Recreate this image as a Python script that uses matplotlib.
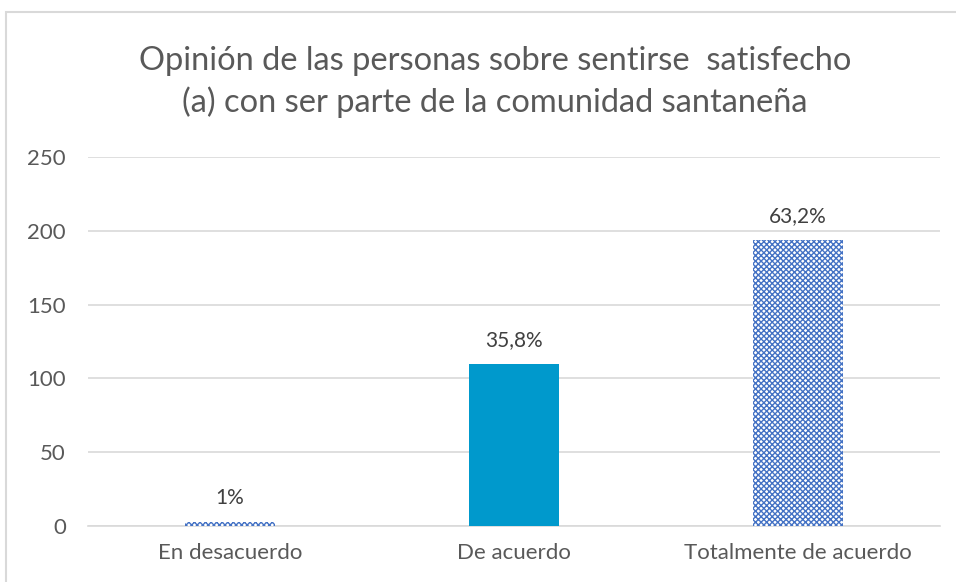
import matplotlib
matplotlib.use("Agg")
import matplotlib.pyplot as plt
from matplotlib.patches import Rectangle

categories = ["En desacuerdo", "De acuerdo", "Totalmente de acuerdo"]
values = [3, 110, 194]
labels = ["1%", "35,8%", "63,2%"]
yticks = [0, 50, 100, 150, 200, 250]

plt.rcParams['font.family'] = ['Lato', 'DejaVu Sans']
plt.rcParams['hatch.linewidth'] = 1.0

fig = plt.figure(figsize=(9.56, 5.82), dpi=100)
ax = fig.add_axes([88/956, 1-526/582, (940-88)/956, (526-157)/582])

gray = '#595959'
pattern_blue = '#4472C4'
solid_blue = '#0099CC'

x = list(range(len(categories)))
for i, v in enumerate(values):
    if i == 1:
        ax.bar(i, v, width=0.315, color=solid_blue, linewidth=0, zorder=3)
    else:
        ax.bar(i, v, width=0.315, facecolor='white', edgecolor=pattern_blue,
               hatch='xxxxxx', linewidth=0, zorder=3)
    ax.annotate(labels[i], (i, v), xytext=(0, 10), textcoords='offset points',
                ha='center', va='bottom', fontsize=15, color='#404040')

ax.set_xlim(-0.5, 2.5)
ax.set_ylim(0, 250)
ax.set_yticks(yticks)
ax.set_xticks(x)
ax.set_xticklabels(categories)
ax.tick_params(axis='both', length=0, labelsize=16, colors=gray)
ax.tick_params(axis='y', pad=16)
ax.tick_params(axis='x', pad=12)
ax.yaxis.grid(True, color='#D9D9D9', linewidth=1.2, zorder=0)
ax.set_axisbelow(True)
for s in ['top', 'right', 'left']:
    ax.spines[s].set_visible(False)
ax.spines['bottom'].set_color('#D9D9D9')
ax.spines['bottom'].set_linewidth(1.2)

fig.text(495/956, 1-82/582, "Opinión de las personas sobre sentirse  satisfecho\n(a) con ser parte de la comunidad santaneña",
         ha='center', va='center', fontsize=23.5, color=gray, linespacing=1.38)

fig.patches.append(Rectangle((6/956, -0.1), 1.2, 1-12/582+0.1, transform=fig.transFigure,
                             fill=False, edgecolor='#D9D9D9', linewidth=1.5))

fig.savefig('out.png', dpi=100, facecolor='white')
